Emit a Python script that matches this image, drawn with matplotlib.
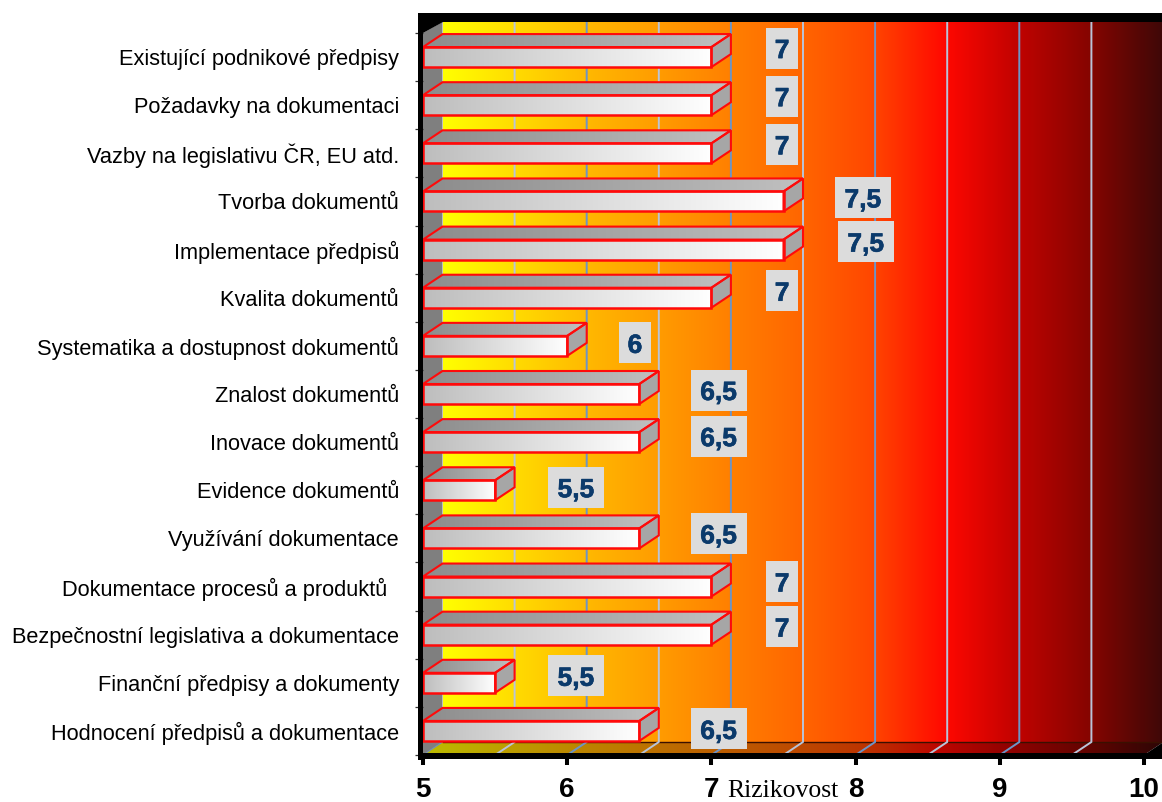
import numpy as np
import matplotlib
matplotlib.use("Agg")
import matplotlib.pyplot as plt
import matplotlib.patheffects as pe
from matplotlib.colors import LinearSegmentedColormap
from matplotlib.patches import Polygon, Rectangle

categories = ["Existující podnikové předpisy", "Požadavky na dokumentaci",
              "Vazby na legislativu ČR, EU atd.", "Tvorba dokumentů",
              "Implementace předpisů", "Kvalita dokumentů",
              "Systematika a dostupnost dokumentů", "Znalost dokumentů",
              "Inovace dokumentů", "Evidence dokumentů", "Využívání dokumentace",
              "Dokumentace procesů a produktů  ",
              "Bezpečnostní legislativa a dokumentace",
              "Finanční předpisy a dokumenty", "Hodnocení předpisů a dokumentace"]
values = [7, 7, 7, 7.5, 7.5, 7, 6, 6.5, 6.5, 5.5, 6.5, 7, 7, 5.5, 6.5]
x_ticks = [5, 6, 7, 8, 9, 10]
x_title = "Rizikovost"
grid_values = [5.5, 6, 6.5, 7, 7.5, 8, 8.5, 9, 9.5]

# label placement relative to bar end (x data units) and bar centre (pixels)
label_dx = [.49, .49, .49, .55, .57, .49, .47, .55, .55, .56, .55, .49, .49, .56, .55]
label_dy_px = [-9, -9, -9, -4, -8, -7, -3, -4, -6, -3, -5, -5, -8, -7, -2]

W, H = 1162, 802
L, R, T, B = 423, 1144, 33, 755
fig = plt.figure(figsize=(W / 100, H / 100), dpi=100, facecolor="white")
ax = fig.add_axes([L / W, 1 - B / H, (R - L) / W, (B - T) / H])
n = len(categories)
ax.set_xlim(5, 10)
ax.set_ylim(n, 0)
ppx = (R - L) / 5
ppy = (B - T) / n
DX, DY = 19.5 / ppx, 13 / ppy          # 3-D depth in data units
BAR_H = 20 / ppy
ax.set_facecolor("none")
for s in ("top", "right"):
    ax.spines[s].set_visible(False)


def shade(stops, extent, clip=None, z=1, scale=1.0):
    cm = LinearSegmentedColormap.from_list("g", stops, N=512)
    g = np.linspace(0, 1, 512).reshape(1, -1)
    rgba = cm(g)
    rgba[..., :3] *= scale
    im = ax.imshow(rgba, extent=extent, aspect="auto", zorder=z, interpolation="bilinear")
    if clip is not None:
        im.set_clip_path(Polygon(clip, transform=ax.transData))
        im.set_clip_box(fig.bbox)
    else:
        im.set_clip_on(False)
    return im


wall_x0, wall_x1 = 5 + DX, 10 + DX
def tx(px):
    return (px - 443) / (1163 - 443)
wall_stops = [(0, (1, 1, 0)), (tx(520), (1, .85, 0)), (tx(600), (1, .70, 0)), (tx(730), (1, .50, 0)),
              (tx(800), (1, .40, 0)), (tx(870), (1, .28, 0)), (tx(945), (1, .03, 0)),
              (tx(1018), (.75, .01, 0)), (tx(1090), (.52, .02, 0)), (1, (.24, .03, .03))]
wall_top, wall_bot = -11 / ppy, n - DY
shade(wall_stops, (wall_x0, wall_x1, wall_bot, wall_top), z=1).set_clip_on(False)
# floor
floor = [(5, n), (10, n), (wall_x1, wall_bot), (wall_x0, wall_bot)]
shade(wall_stops, (5, wall_x1, n, wall_bot), clip=floor, z=1.1, scale=.74)
# left side wall
ax.add_patch(Polygon([(5, 0), (wall_x0, wall_top), (wall_x0, wall_bot), (5, n)],
                     closed=True, fc="#7f7f7f", ec="none", zorder=1.2, clip_on=False))
ax.plot([5, wall_x0], [n, wall_bot], color="#6f8fb5", lw=.8, zorder=1.3, clip_on=False)
# floor/wall junction
ax.plot([wall_x0, wall_x1], [wall_bot, wall_bot], color="#3a1000", lw=1.0, zorder=1.3, clip_on=False)

# grid
for i, g in enumerate(grid_values):
    c = "#b9c4d8" if i % 2 == 0 else "#6d94c6"
    ax.plot([g, g + DX, g + DX], [n, wall_bot, wall_top], color=c, lw=1.4,
            zorder=1.5, clip_on=False)

# bars
red = "#ff0a0a"
for i, v in enumerate(values):
    c = i + .5
    top, bot = c - BAR_H / 2, c + BAR_H / 2
    shade([(0, "#bdbdbd"), (1, "#ffffff")], (5, v, bot, top),
          clip=[(5, bot), (v, bot), (v, top), (5, top)], z=3)
    tp = [(5, top), (v, top), (v + DX, top - DY), (5 + DX, top - DY)]
    shade([(0, "#8c8c8c"), (1, "#c0c0c0")], (5, v + DX, top, top - DY), clip=tp, z=3)
    sd = [(v, top), (v + DX, top - DY), (v + DX, bot - DY), (v, bot)]
    ax.add_patch(Polygon(sd, closed=True, fc="#a6a6a6", ec=red, lw=1.5, zorder=3.2, clip_on=False))
    ax.add_patch(Polygon(tp, closed=True, fc="none", ec=red, lw=1.5, zorder=3.2, clip_on=False))
    ax.add_patch(Rectangle((5, top), v - 5, BAR_H, fc="none", ec=red, lw=1.8, zorder=3.3, clip_on=False))
    # value label
    lx = v + label_dx[i]
    ly = c + label_dy_px[i] / ppy
    txt = f"{v:g}".replace(".", ",")
    bw = (32 if len(txt) == 1 else 56) / ppx
    bh = 41 / ppy
    ax.add_patch(Rectangle((lx - bw / 2, ly - bh / 2), bw, bh, fc="#dcdcdc", ec="none",
                           zorder=4, clip_on=False))
    ax.text(lx, ly + 3 / ppy, txt, ha="center", va="center", fontsize=19, fontweight="bold",
            family="Liberation Sans", color="#0b3a6b", zorder=5,
            path_effects=[pe.withStroke(linewidth=.45, foreground="#0b3a6b")])

# black frame
black = "black"
def pxrect(x0, y0, x1, y1, z=6):
    ax.add_patch(Rectangle((5 + (x0 - L) / ppx, (y0 - T) / ppy), (x1 - x0) / ppx, (y1 - y0) / ppy,
                           fc=black, ec="none", zorder=z, clip_on=False))
pxrect(418, 13, 1162, 22)
pxrect(418, 13, 423, 760)
pxrect(418, 753, 1162, 759)
ax.add_patch(Polygon([(5, 0), (5, wall_top), (wall_x0, wall_top)], closed=True, fc=black, ec="none",
                     zorder=6, clip_on=False))
ax.add_patch(Polygon([(10, n), (wall_x1, wall_bot), (wall_x1, n)], closed=True, fc=black, ec="none",
                     zorder=6, clip_on=False))

# axes ticks
ax.spines["left"].set_visible(False)
ax.spines["bottom"].set_visible(False)
ax.set_xticks(x_ticks)
ax.set_xticklabels([str(t) for t in x_ticks], fontsize=20, fontweight="bold", family="Liberation Sans")
ax.tick_params(axis="x", length=7, width=2.9, pad=8.5, color="black", zorder=7)
ax.set_yticks(np.arange(n + 1))
ax.set_yticklabels([])
ax.set_yticks(np.arange(n) + .5, minor=True)
ax.set_yticklabels(categories, minor=True, fontsize=15.7, family="Liberation Sans", color="black")
ax.tick_params(axis="y", which="major", length=6, width=.9, color="#333333")
ax.tick_params(axis="y", which="minor", length=0, pad=17.3)
ax.text(5 + (783 - L) / ppx, n + 42 / ppy, x_title, ha="center", va="baseline", fontsize=18.5,
        family="Liberation Serif", color="black", clip_on=False)
ax.set_xlim(5, 10)
ax.set_ylim(n, 0)
fig.savefig("out.png", dpi=100)
